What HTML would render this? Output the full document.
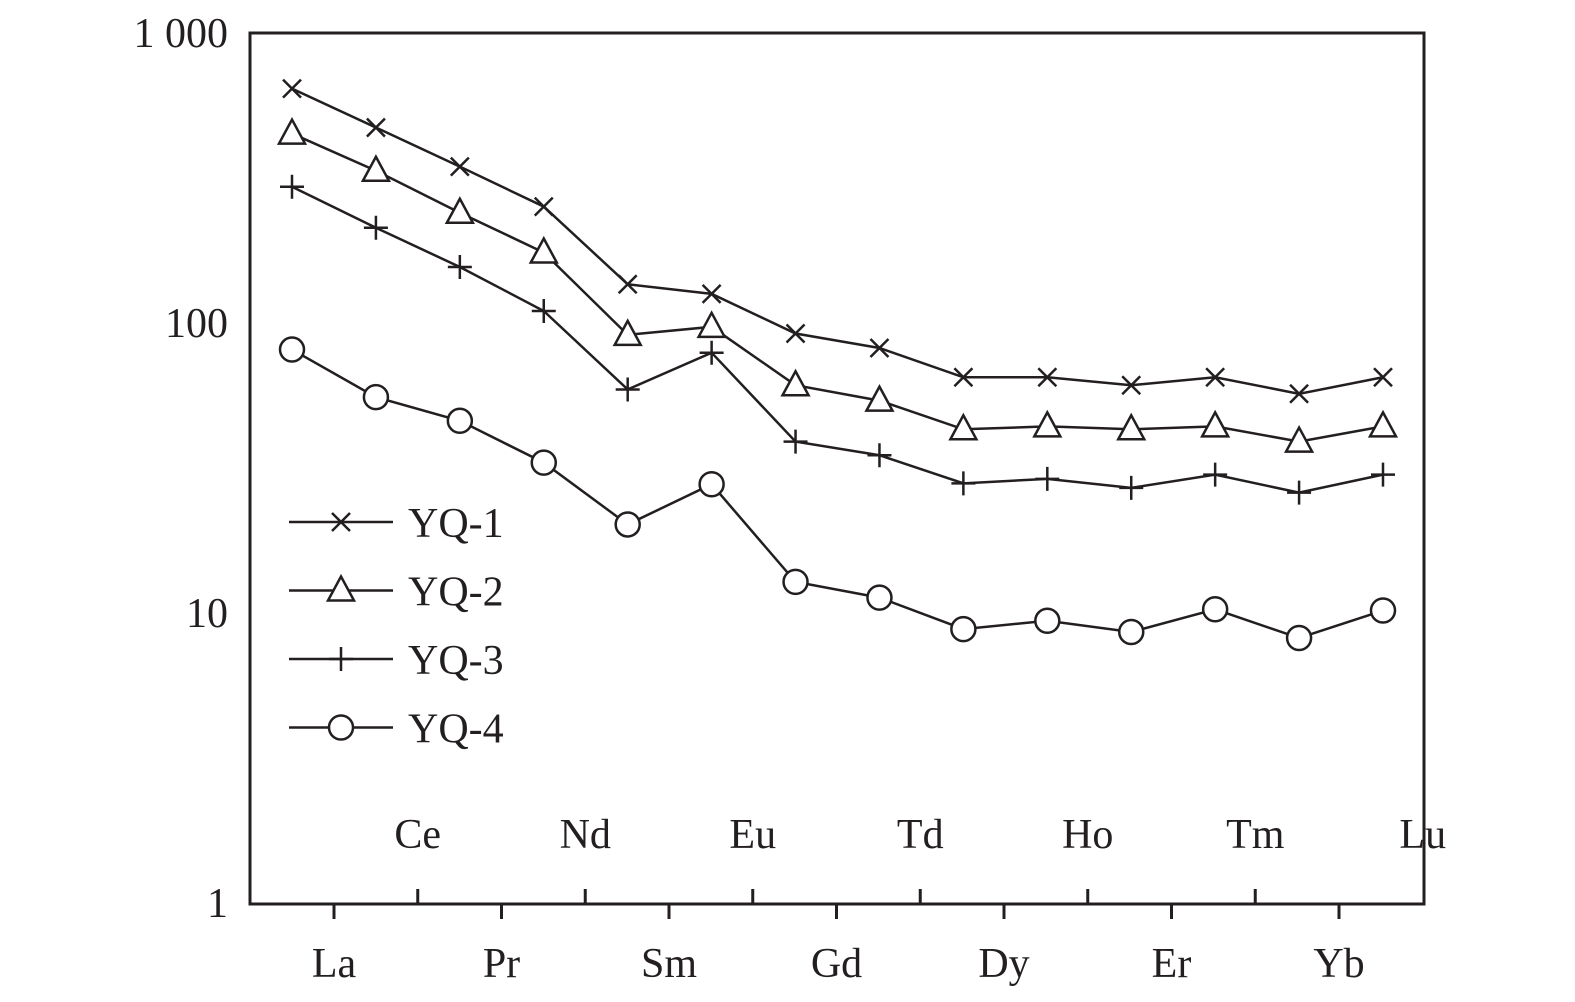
<!DOCTYPE html>
<html><head><meta charset="utf-8"><style>
html,body{margin:0;padding:0;background:#fff;}
svg{display:block;font-family:"Liberation Serif",serif;}
</style></head><body>
<svg id="chart" width="1575" height="1002" viewBox="0 0 1575 1002" xmlns="http://www.w3.org/2000/svg">
<rect x="250" y="33" width="1174" height="871" fill="none" stroke="#231f20" stroke-width="3"/>
<g id="axes"></g>
<g id="series"></g>
<g id="legend"></g>
</svg>
<script>
const categories=["La","Ce","Pr","Nd","Sm","Eu","Gd","Td","Dy","Ho","Er","Tm","Yb","Lu"];
const yq1=[643,472,346,252,136,126,92,82,65,65,61,65,57,65];
const yq2=[450,335,240,175,91,97,61,54,43,44,43,44,39,44];
const yq3=[295,213,156,110,59,79,39,35,28,29,27,30,26,30];
const yq4=[81,55.5,46,33,20.2,27.8,12.8,11.3,8.8,9.4,8.6,10.3,8.2,10.2];
const yTicks=[1,10,100,1000];
const yTickLabels=["1","10","100","1 000"];
const seriesNames=["YQ-1","YQ-2","YQ-3","YQ-4"];
const markers=["x","tri","plus","circle"];

const NS="http://www.w3.org/2000/svg";
const C="#231f20";
const plotTop=33,plotBottom=903,plotLeft=250,plotRight=1424;
function yScale(v){return plotBottom-(Math.log10(v)/3)*(plotBottom-plotTop);}
function xPoint(i){return 292+i*(1383-292)/(categories.length-1);}
function xTick(i){return 334+i*167.5/2;}
function mk(tag,attrs,parent){const e=document.createElementNS(NS,tag);for(const k in attrs)e.setAttribute(k,attrs[k]);parent.appendChild(e);return e;}
const axes=document.getElementById('axes');
yTicks.forEach((t,i)=>{
  const tx=mk('text',{x:228,y:yScale(t)+14,'text-anchor':'end','font-size':42,fill:C},axes);
  
  
  tx.textContent=yTickLabels[i];
});
categories.forEach((c,i)=>{
  const x=xTick(i);const even=i%2===0;
  if(x<plotRight-2){
    const l=mk('line',{x1:x,x2:x,y1:904,y2:even?919:889,stroke:C,'stroke-width':3},axes);
    
    
  }
  const tx=mk('text',{x:x,y:even?977:848,'text-anchor':'middle','font-size':42,fill:C},axes);
  
  
  tx.textContent=c;
});
function drawMarker(type,x,y,g){
  let e;
  if(type==="x"){e=mk('path',{d:`M${x-9},${y-9}L${x+9},${y+9}M${x-9},${y+9}L${x+9},${y-9}`,stroke:C,'stroke-width':2.5,fill:'none'},g);}
  else if(type==="tri"){e=mk('path',{d:`M${x},${y-14}L${x+13},${y+10}L${x-13},${y+10}Z`,stroke:C,'stroke-width':2.5,fill:'#fff'},g);}
  else if(type==="plus"){e=mk('path',{d:`M${x-12},${y}L${x+12},${y}M${x},${y-12}L${x},${y+12}`,stroke:C,'stroke-width':2.5,fill:'none'},g);}
  else {e=mk('circle',{cx:x,cy:y,r:12,stroke:C,'stroke-width':2.5,fill:'#fff'},g);}
  
  
}
const sg=document.getElementById('series');
[yq1,yq2,yq3,yq4].forEach((arr,s)=>{
  const g=mk('g',{},sg);
  
  
  const pts=arr.map((v,i)=>xPoint(i)+','+yScale(v)).join(' ');
  const pl=mk('polyline',{points:pts,fill:'none',stroke:C,'stroke-width':2.5},g);
  
  
  arr.forEach((v,i)=>drawMarker(markers[s],xPoint(i),yScale(v),g));
});
const lg=document.getElementById('legend');
seriesNames.forEach((n,s)=>{
  const y=522+s*68.5;
  const g=mk('g',{},lg);
  
  
  mk('line',{x1:289,x2:393,y1:y,y2:y,stroke:C,'stroke-width':2.5},g);
  drawMarker(markers[s],341,y,g);
  const t=mk('text',{x:408,y:y+15,'font-size':42,fill:C},g);
  
  
  t.textContent=n;
});
</script>
</body></html>
